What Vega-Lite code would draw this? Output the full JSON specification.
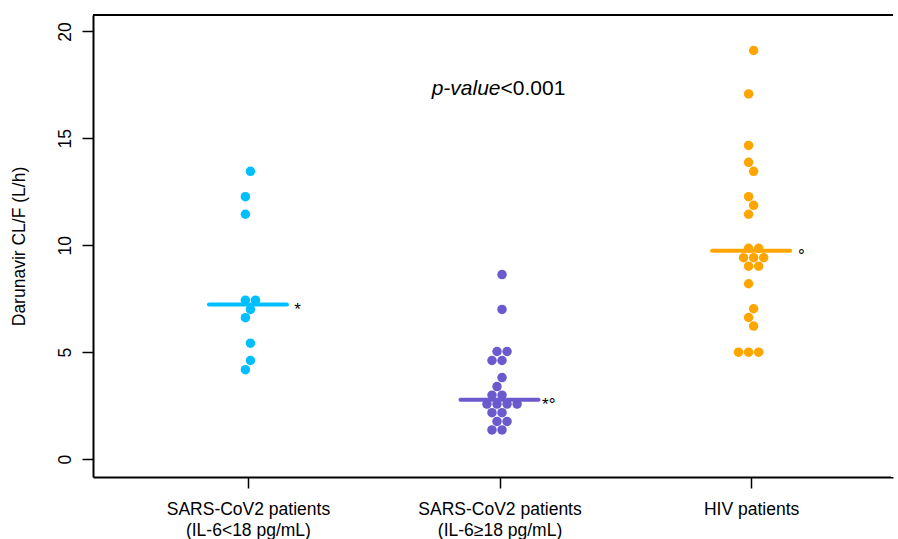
{
  "$schema": "https://vega.github.io/schema/vega-lite/v6.json",
  "width": 898,
  "height": 539,
  "autosize": {"type": "fit", "contains": "padding"},
  "padding": {"left": 10, "top": 13, "right": 3, "bottom": 0},
  "background": "white",
  "config": {
    "font": "Liberation Sans",
    "view": {"stroke": null},
    "axis": {"grid": false, "domainColor": "#000", "domainWidth": 2, "tickColor": "#000", "tickWidth": 1.5, "tickSize": 11, "labelColor": "#000", "labelFont": "Liberation Sans", "labelFontSize": 17.5, "titleFont": "Liberation Sans", "titleFontSize": 17.5, "titleFontWeight": "normal", "titleColor": "#000"}
  },
  "datasets": {
    "points": [
      {"g": "A", "x": 1.01, "v": 13.46},
      {"g": "A", "x": 0.99, "v": 12.27},
      {"g": "A", "x": 0.99, "v": 11.45},
      {"g": "A", "x": 0.99, "v": 7.43},
      {"g": "A", "x": 1.03, "v": 7.43},
      {"g": "A", "x": 1.01, "v": 7.0},
      {"g": "A", "x": 0.99, "v": 6.61},
      {"g": "A", "x": 1.01, "v": 5.42},
      {"g": "A", "x": 1.01, "v": 4.61},
      {"g": "A", "x": 0.99, "v": 4.18},
      {"g": "B", "x": 2.01, "v": 8.63},
      {"g": "B", "x": 2.01, "v": 7.0},
      {"g": "B", "x": 1.99, "v": 5.03},
      {"g": "B", "x": 2.03, "v": 5.03},
      {"g": "B", "x": 1.97, "v": 4.61},
      {"g": "B", "x": 2.01, "v": 4.61},
      {"g": "B", "x": 2.01, "v": 3.81},
      {"g": "B", "x": 1.99, "v": 3.39},
      {"g": "B", "x": 1.97, "v": 2.99},
      {"g": "B", "x": 2.01, "v": 2.99},
      {"g": "B", "x": 1.95, "v": 2.57},
      {"g": "B", "x": 1.99, "v": 2.57},
      {"g": "B", "x": 2.03, "v": 2.57},
      {"g": "B", "x": 2.07, "v": 2.57},
      {"g": "B", "x": 1.97, "v": 2.17},
      {"g": "B", "x": 2.01, "v": 2.17},
      {"g": "B", "x": 1.99, "v": 1.76},
      {"g": "B", "x": 2.03, "v": 1.76},
      {"g": "B", "x": 1.97, "v": 1.36},
      {"g": "B", "x": 2.01, "v": 1.36},
      {"g": "C", "x": 3.01, "v": 19.11},
      {"g": "C", "x": 2.99, "v": 17.08},
      {"g": "C", "x": 2.99, "v": 14.67},
      {"g": "C", "x": 2.99, "v": 13.88},
      {"g": "C", "x": 3.01, "v": 13.46},
      {"g": "C", "x": 2.99, "v": 12.27},
      {"g": "C", "x": 3.01, "v": 11.87},
      {"g": "C", "x": 2.99, "v": 11.45},
      {"g": "C", "x": 2.99, "v": 9.86},
      {"g": "C", "x": 3.03, "v": 9.86},
      {"g": "C", "x": 2.97, "v": 9.42},
      {"g": "C", "x": 3.01, "v": 9.42},
      {"g": "C", "x": 3.05, "v": 9.42},
      {"g": "C", "x": 2.99, "v": 9.02},
      {"g": "C", "x": 3.03, "v": 9.02},
      {"g": "C", "x": 2.99, "v": 8.2},
      {"g": "C", "x": 3.01, "v": 7.03},
      {"g": "C", "x": 2.99, "v": 6.62},
      {"g": "C", "x": 3.01, "v": 6.22},
      {"g": "C", "x": 2.95, "v": 5.0},
      {"g": "C", "x": 2.99, "v": 5.0},
      {"g": "C", "x": 3.03, "v": 5.0}
    ],
    "medians": [
      {"g": "A", "lo": 0.845, "hi": 1.155, "m": 7.23},
      {"g": "B", "lo": 1.845, "hi": 2.155, "m": 2.77},
      {"g": "C", "lo": 2.845, "hi": 3.155, "m": 9.74}
    ],
    "notes": [
      {"x": 1.197, "y": 6.75, "t": "*"},
      {"x": 2.196, "y": 2.3, "t": "*°"},
      {"x": 3.2, "y": 9.27, "t": "°"}
    ]
  },
  "layer": [
    {
      "data": {"name": "points"},
      "mark": {"type": "circle", "size": 90, "opacity": 1},
      "encoding": {
        "x": {"field": "x", "type": "quantitative", "scale": {"domain": [0.3842, 3.564], "nice": false, "zero": false},
          "axis": {"values": [1, 2, 3], "title": null, "labelPadding": 12, "labelLineHeight": 21, "labelBaseline": "top", "labelFlush": false, "labelOverlap": false,
            "labelExpr": "datum.value == 1 ? ['SARS-CoV2 patients', '(IL-6<18 pg/mL)'] : datum.value == 2 ? ['SARS-CoV2 patients', '(IL-6≥18 pg/mL)'] : 'HIV patients'"}},
        "y": {"field": "v", "type": "quantitative", "scale": {"domain": [-0.84, 20.77], "nice": false, "zero": false},
          "axis": {"values": [0, 5, 10, 15, 20], "title": "Darunavir CL/F (L/h)", "labelAngle": -90, "labelAlign": "center", "labelBaseline": "bottom", "labelPadding": 8, "titlePadding": 28}},
        "color": {"field": "g", "type": "nominal", "scale": {"domain": ["A", "B", "C"], "range": ["#00BFFF", "#6A5ACD", "#FFA500"]}, "legend": null}
      }
    },
    {
      "data": {"name": "medians"},
      "mark": {"type": "rule", "strokeWidth": 4, "strokeCap": "round"},
      "encoding": {
        "x": {"field": "lo", "type": "quantitative"},
        "x2": {"field": "hi"},
        "y": {"field": "m", "type": "quantitative"},
        "color": {"field": "g", "type": "nominal", "legend": null}
      }
    },
    {
      "data": {"name": "notes"},
      "mark": {"type": "text", "fontSize": 17, "align": "center", "baseline": "alphabetic", "color": "#000"},
      "encoding": {
        "x": {"field": "x", "type": "quantitative"},
        "y": {"field": "y", "type": "quantitative"},
        "text": {"field": "t"}
      }
    },
    {
      "data": {"values": [{"x": 2.004, "y": 17.05, "t": "p-value"}]},
      "mark": {"type": "text", "fontSize": 21, "fontStyle": "italic", "align": "right", "baseline": "alphabetic", "color": "#000"},
      "encoding": {
        "x": {"field": "x", "type": "quantitative"},
        "y": {"field": "y", "type": "quantitative"},
        "text": {"field": "t"}
      }
    },
    {
      "data": {"values": [{"x": 2.004, "y": 17.05, "t": "<0.001"}]},
      "mark": {"type": "text", "fontSize": 21, "align": "left", "baseline": "alphabetic", "color": "#000"},
      "encoding": {
        "x": {"field": "x", "type": "quantitative"},
        "y": {"field": "y", "type": "quantitative"},
        "text": {"field": "t"}
      }
    },
    {
      "data": {"values": [{"edge": 3.564}]},
      "mark": {"type": "rule", "strokeWidth": 4, "color": "white"},
      "encoding": {
        "x": {"field": "edge", "type": "quantitative"}
      }
    },
    {
      "data": {"values": [{"top": 20.77}]},
      "mark": {"type": "rule", "strokeWidth": 2, "color": "#000"},
      "encoding": {
        "y": {"field": "top", "type": "quantitative"}
      }
    }
  ]
}
